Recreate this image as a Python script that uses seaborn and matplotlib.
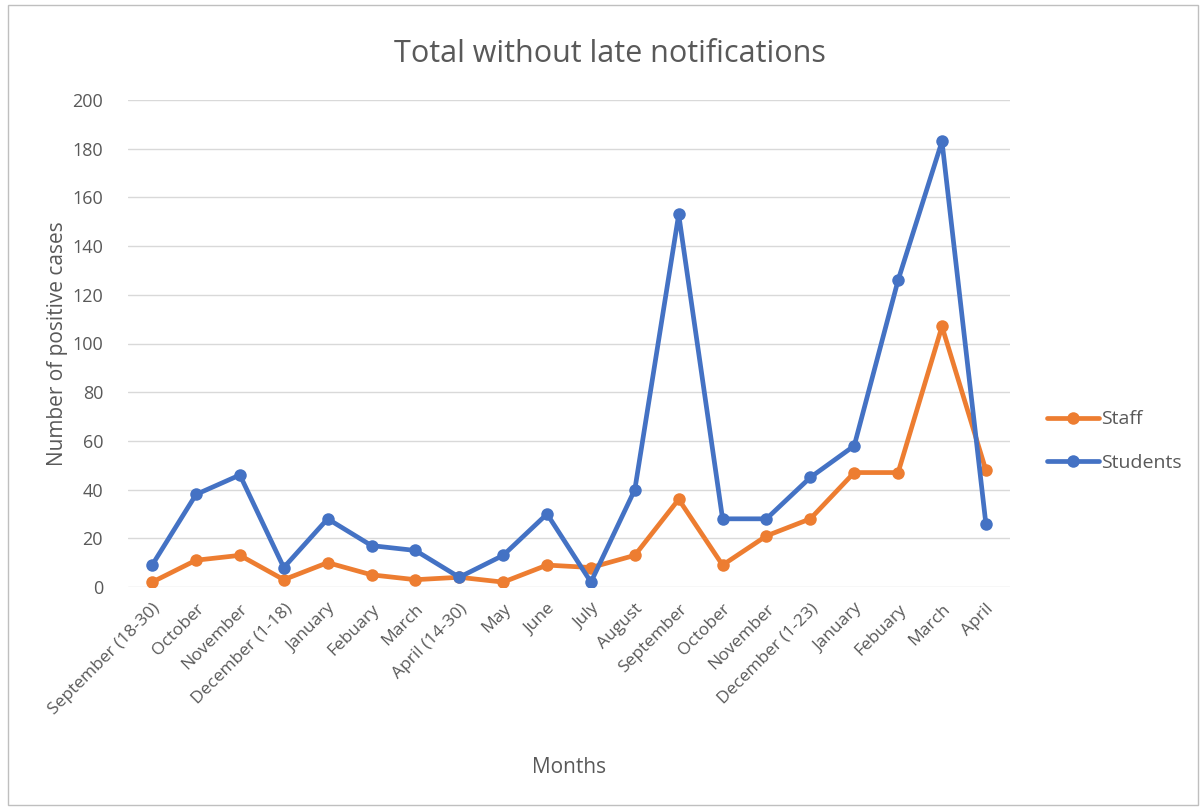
import pandas as pd
import matplotlib.pyplot as plt
import seaborn as sns
from matplotlib.patches import Rectangle

# month labels along the x axis (two school years)
months = ['September (18-30)', 'October', 'November', 'December (1-18)', 'January',
          'Febuary', 'March', 'April (14-30)', 'May', 'June', 'July', 'August',
          'September', 'October', 'November', 'December (1-23)', 'January',
          'Febuary', 'March', 'April']

staff = [2, 11, 13, 3, 10, 5, 3, 4, 2, 9, 8, 13, 36, 9, 21, 28, 47, 47, 107, 48]
students = [9, 38, 46, 8, 28, 17, 15, 4, 13, 30, 2, 40, 153, 28, 28, 45, 58, 126, 183, 26]

df = pd.DataFrame({
    'idx': list(range(len(months))) * 2,
    'cases': staff + students,
    'group': ['Staff'] * len(staff) + ['Students'] * len(students),
})

sns.set_style('white')
plt.rcParams['font.family'] = ['Open Sans', 'DejaVu Sans']
grey = '#595959'

fig = plt.figure(figsize=(12.03, 8.07), dpi=100)
ax = fig.add_axes([128 / 1203, 1 - 587 / 807, (1010 - 128) / 1203, (587 - 100) / 807])

sns.lineplot(data=df, x='idx', y='cases', hue='group', ax=ax,
             palette={'Staff': '#ED7D31', 'Students': '#4472C4'},
             marker='o', markersize=9, markeredgewidth=0, linewidth=3.4,
             sort=False, zorder=3)

ax.set_xlim(-0.55, len(months) - 0.45)
ax.set_ylim(0, 200)
ax.set_yticks(range(0, 201, 20))
ax.set_xticks(range(len(months)))
ax.set_xticklabels(months, rotation=45, ha='right', rotation_mode='anchor')
ax.tick_params(axis='both', length=0, labelsize=12.5, labelcolor=grey)
ax.tick_params(axis='y', labelsize=13, pad=18)
ax.tick_params(axis='x', pad=10)
ax.grid(axis='y', color='#D9D9D9', linewidth=1)
ax.set_axisbelow(True)
for s in ax.spines.values():
    s.set_visible(False)

ax.set_xlabel('Months', fontsize=15, color=grey, labelpad=0)
ax.xaxis.set_label_coords(0.5, -0.35)
ax.set_ylabel('Number of positive cases', fontsize=15, color=grey)
ax.yaxis.set_label_coords(-0.068, 0.5)

fig.text(610 / 1203, 1 - 62 / 807, 'Total without late notifications',
         ha='center', va='baseline', fontsize=22, color=grey)

leg = ax.legend(loc='center left', bbox_to_anchor=(1029 / 1203, 1 - 441 / 807),
                bbox_transform=fig.transFigure, frameon=False, fontsize=14,
                handlelength=2.7, handletextpad=0.1, labelspacing=1.3, title=None)
for t in leg.get_texts():
    t.set_color(grey)

fig.patches.append(Rectangle((8 / 1203, 2 / 807), 1190 / 1203, 800 / 807,
                             transform=fig.transFigure, fill=False,
                             edgecolor='#BFBFBF', linewidth=1))

fig.savefig('out.png', dpi=100)
